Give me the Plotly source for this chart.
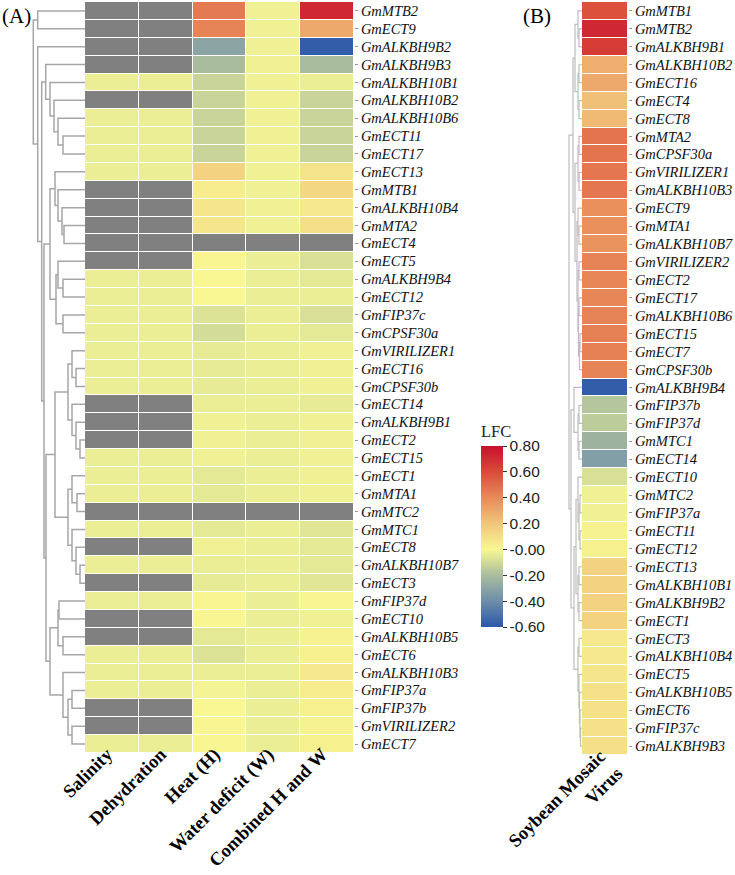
import plotly.graph_objects as go
import numpy as np

W, H = 735, 875
nan = float("nan")

# ---------------- data: panel A ----------------
conditions_A = ["Salinity", "Dehydration", "Heat (H)", "Water deficit (W)", "Combined H and W"]
genes_A = ["GmMTB2", "GmECT9", "GmALKBH9B2", "GmALKBH9B3", "GmALKBH10B1", "GmALKBH10B2",
           "GmALKBH10B6", "GmECT11", "GmECT17", "GmECT13", "GmMTB1", "GmALKBH10B4", "GmMTA2",
           "GmECT4", "GmECT5", "GmALKBH9B4", "GmECT12", "GmFIP37c", "GmCPSF30a", "GmVIRILIZER1",
           "GmECT16", "GmCPSF30b", "GmECT14", "GmALKBH9B1", "GmECT2", "GmECT15", "GmECT1",
           "GmMTA1", "GmMTC2", "GmMTC1", "GmECT8", "GmALKBH10B7", "GmECT3", "GmFIP37d",
           "GmECT10", "GmALKBH10B5", "GmECT6", "GmALKBH10B3", "GmFIP37a", "GmFIP37b",
           "GmVIRILIZER2", "GmECT7"]
salinity = [nan, nan, nan, nan, -0.03, nan, -0.03, -0.03, -0.03, -0.03, nan, nan, nan, nan, nan,
            -0.03, -0.03, -0.03, -0.03, -0.03, -0.03, -0.03, nan, nan, nan, -0.03, -0.03, -0.03,
            nan, -0.03, nan, -0.03, nan, -0.03, nan, nan, -0.03, -0.03, -0.03, nan, nan, -0.03]
dehydration = list(salinity)
heat = [0.45, 0.42, -0.30, -0.20, -0.12, -0.12, -0.12, -0.12, -0.12, 0.15, 0.04, 0.07, 0.07, nan,
        0.01, 0.00, 0.00, -0.07, -0.09, -0.04, -0.04, -0.04, -0.03, -0.02, -0.02, -0.02, -0.05,
        -0.05, nan, -0.05, -0.02, -0.03, -0.04, 0.01, 0.01, -0.05, -0.07, -0.03, -0.01, 0.00,
        0.01, 0.01]
water = [-0.02] * 13 + [nan] + [-0.03] * 14 + [nan] + [-0.03] * 13
combined = [0.72, 0.30, -0.58, -0.20, -0.03, -0.12, -0.12, -0.12, -0.12, 0.08, 0.13, 0.06, 0.10,
            nan, -0.08, -0.05, -0.03, -0.08, -0.05, -0.02, -0.02, -0.02, -0.04, -0.02, -0.02,
            -0.02, -0.02, -0.02, nan, -0.06, -0.05, -0.05, -0.06, 0.01, -0.02, 0.02, 0.03, 0.06,
            0.04, 0.03, 0.02, 0.03]

# ---------------- data: panel B ----------------
conditions_B = ["Soybean Mosaic<br>Virus"]
genes_B = ["GmMTB1", "GmMTB2", "GmALKBH9B1", "GmALKBH10B2", "GmECT16", "GmECT4", "GmECT8",
           "GmMTA2", "GmCPSF30a", "GmVIRILIZER1", "GmALKBH10B3", "GmECT9", "GmMTA1",
           "GmALKBH10B7", "GmVIRILIZER2", "GmECT2", "GmECT17", "GmALKBH10B6", "GmECT15",
           "GmECT7", "GmCPSF30b", "GmALKBH9B4", "GmFIP37b", "GmFIP37d", "GmMTC1", "GmECT14",
           "GmECT10", "GmMTC2", "GmFIP37a", "GmECT11", "GmECT12", "GmECT13", "GmALKBH10B1",
           "GmALKBH9B2", "GmECT1", "GmECT3", "GmALKBH10B4", "GmECT5", "GmALKBH10B5", "GmECT6",
           "GmFIP37c", "GmALKBH9B3"]
smv = [0.58, 0.72, 0.65, 0.28, 0.30, 0.22, 0.24, 0.47, 0.47, 0.46, 0.46, 0.38, 0.38, 0.37, 0.42,
       0.41, 0.41, 0.42, 0.43, 0.43, 0.42, -0.58, -0.17, -0.15, -0.24, -0.33, -0.08, -0.02,
       -0.02, 0.02, 0.03, 0.15, 0.15, 0.15, 0.15, 0.06, 0.06, 0.07, 0.09, 0.09, 0.09, 0.10]

# dendrograms: [merge height, left, right]; leaves = row index
tree_A = [51.7,
          [47.3, 0, 1],
          [47.3, 2,
           [43.3,
            [39.3, 3, [35, 4, [31, 5, [27, 6, [22, 7, 8]]]]],
            [41,
             [35, [30, 9, [27, 10, [23, 11, [21, 12, 13]]]],
                  [29, [27, 14, [22, 15, 16]], [22, 17, 18]]],
             [39,
              [30, [17, [13, 19, [9, 20, 21]], [13, 22, [9, 23, [5, 24, 25]]]],
                   [17, [13, 26, [8, 27, 28]], [13, 29, [9, 30, [5, 31, 32]]]]],
              [35, [27, [26, 33, 34], [22, 35, 36]],
                   [22, 37, [17, [13, 38, 39], [13, 40, 41]]]]]]]]]
tree_B = [13,
          [9, [7, [4, 0, [3, 1, 2]], [4, [3, 3, 4], [3, 5, 6]]],
              [7, [4, [3, 7, 8], [3, 9, 10]],
                  [5, [4, 11, [3, 12, 13]], [4, [3, 14, 15], [3.5, [3, 16, 17], [2.5, [2, 18, 19], 20]]]]]],
          [11, [8, 21, [4, [3, 22, 23], [3, 24, 25]]],
               [8, [6, [4, 26, [3, [2, 27, 28], [2, 29, 30]]], [4, [3, 31, 32], [3, 33, 34]]],
                   [4, [3, 35, 36], [3, 37, [2.5, 38, [2, 39, [1.5, 40, 41]]]]]]]]

zmin, zmax = -0.6, 0.8
cb_vals = [0.8, 0.6, 0.4, 0.2, 0.0, -0.2, -0.4, -0.6]
cb_text = ["0.80", "0.60", "0.40", "0.20", "-0.00", "-0.20", "-0.40", "-0.60"]
cscale_vals = [-0.6, -0.4, -0.2, 0.0, 0.2, 0.4, 0.6, 0.8]
cscale_cols = ["#2b58a8", "#6d8daa", "#a9bd9e", "#f8f793", "#f1c67b", "#e88a5a", "#d94b39", "#c8102e"]
colorscale = [[(v - zmin) / (zmax - zmin), c] for v, c in zip(cscale_vals, cscale_cols)]


def dendro(node):
    if isinstance(node, int):
        return 0.0, float(node), [], []
    h, l, r = node
    xl, yl, ax, ay = dendro(l)
    xr, yr, bx, by = dendro(r)
    xs = ax + bx + [xl, h, h, xr, None]
    ys = ay + by + [yl, yl, yr, yr, None]
    return h, (yl + yr) / 2, xs, ys


fig = go.Figure()

zA = np.array([salinity, dehydration, heat, water, combined]).T
nA = len(genes_A)
xa = list(range(len(conditions_A)))
ya = list(range(nA))
maskA = np.where(np.isnan(zA), 1.0, np.nan)

fig.add_trace(go.Heatmap(z=maskA, x=xa, y=ya, colorscale=[[0, "#808080"], [1, "#808080"]],
                         showscale=False, xgap=1, ygap=1, xaxis="x", yaxis="y", hoverinfo="skip"))
fig.add_trace(go.Heatmap(z=zA, x=xa, y=ya, colorscale=colorscale, zmin=zmin, zmax=zmax,
                         xgap=1, ygap=1, xaxis="x", yaxis="y",
                         colorbar=dict(x=481 / W, xanchor="left", xpad=0, ypad=0,
                                       y=1 - 422 / H, yanchor="top",
                                       len=(627 - 422) / H, lenmode="fraction", thickness=22,
                                       outlinewidth=0, tickvals=cb_vals, ticktext=cb_text,
                                       ticks="outside", ticklen=4, tickcolor="#333",
                                       tickfont=dict(family="Liberation Sans", size=15.5, color="#222"),
                                       title=dict(text="LFC", side="top",
                                                  font=dict(family="Liberation Serif", size=16.5, color="#222")))))

zB = np.array([smv]).T
nB = len(genes_B)
fig.add_trace(go.Heatmap(z=zB, x=[0], y=list(range(nB)), colorscale=colorscale, zmin=zmin,
                         zmax=zmax, showscale=False, xgap=1, ygap=1, xaxis="x3", yaxis="y3"))

_, _, dxa, dya = dendro(tree_A)
fig.add_trace(go.Scatter(x=dxa, y=dya, mode="lines", line=dict(color="#a6a6a6", width=1.5),
                         xaxis="x2", yaxis="y2", hoverinfo="skip", showlegend=False))
_, _, dxb, dyb = dendro(tree_B)
fig.add_trace(go.Scatter(x=dxb, y=dyb, mode="lines", line=dict(color="#bdbdbd", width=1.2),
                         xaxis="x4", yaxis="y4", hoverinfo="skip", showlegend=False))

yA_dom = [1 - 753 / H, 1 - 2 / H]
yB_dom = [1 - 755 / H, 1 - 2 / H]
gene_font = dict(family="Liberation Serif", size=14.5, color="#111", style="italic")
xlab_font = dict(family="Liberation Serif", size=18.5, color="#000")
noax = dict(showgrid=False, zeroline=False, showticklabels=False, ticks="", showline=False,
            automargin=False)

fig.update_layout(
    width=W, height=H, margin=dict(l=0, r=0, t=0, b=0, autoexpand=False),
    paper_bgcolor="white", plot_bgcolor="white", showlegend=False,
    xaxis=dict(domain=[85 / W, 354 / W], range=[-0.5, 4.5], tickvals=xa,
               ticktext=["<b>%s</b>" % c for c in conditions_A], tickangle=-45,
               tickfont=xlab_font, showgrid=False, zeroline=False, ticks="", anchor="y",
               automargin=False, ticklabelstandoff=-14, ticklabelshift=-5),
    yaxis=dict(domain=yA_dom, range=[nA - 0.5, -0.5], tickvals=ya, ticktext=genes_A, side="right",
               tickfont=gene_font, ticks="outside", ticklen=3, tickcolor="#999",
               showgrid=False, zeroline=False, anchor="x", automargin=False),
    xaxis2=dict(domain=[0, 85 / W], range=[85, 0], anchor="y2", **noax),
    yaxis2=dict(domain=yA_dom, range=[nA - 0.5, -0.5], anchor="x2", **noax),
    xaxis3=dict(domain=[582 / W, 628 / W], range=[-0.5, 0.5], tickvals=[0],
                ticktext=["<b>%s</b>" % c for c in conditions_B], tickangle=-45,
                tickfont=xlab_font, showgrid=False, zeroline=False, ticks="", anchor="y3",
                automargin=False, ticklabelstandoff=-14, ticklabelshift=-5),
    yaxis3=dict(domain=yB_dom, range=[nB - 0.5, -0.5], tickvals=list(range(nB)), ticktext=genes_B,
                side="right", tickfont=gene_font, ticks="outside", ticklen=3, tickcolor="#999",
                showgrid=False, zeroline=False, anchor="x3", automargin=False),
    xaxis4=dict(domain=[540 / W, 582 / W], range=[42, 0], anchor="y4", **noax),
    yaxis4=dict(domain=yB_dom, range=[nB - 0.5, -0.5], anchor="x4", **noax),
    annotations=[
        dict(text="(A)", x=0, y=1 - 2 / H, xref="paper", yref="paper", xanchor="left",
             yanchor="top", showarrow=False, font=dict(family="Liberation Serif", size=21, color="#000")),
        dict(text="(B)", x=521 / W, y=1 - 2 / H, xref="paper", yref="paper", xanchor="left",
             yanchor="top", showarrow=False, font=dict(family="Liberation Serif", size=21, color="#000")),
    ],
)

fig.write_html("out.html")
